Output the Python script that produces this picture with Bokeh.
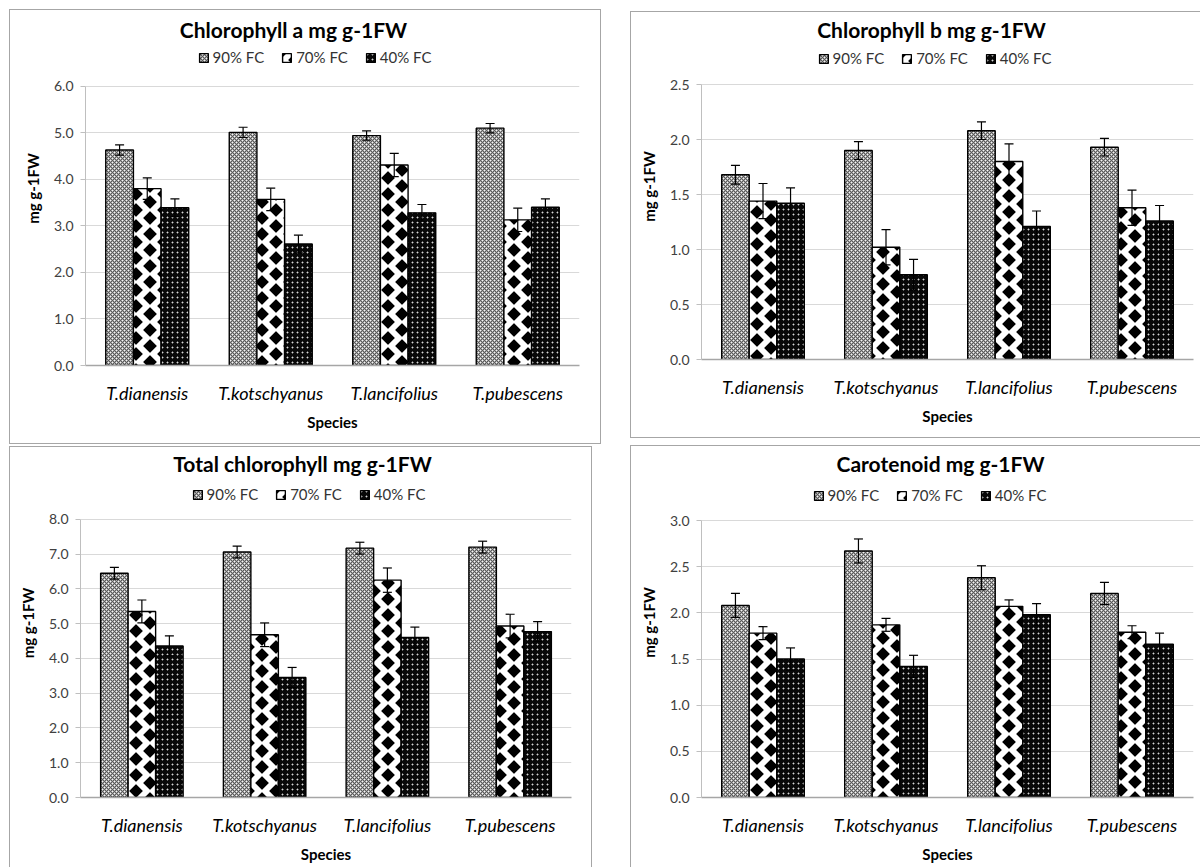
import base64, struct, zlib
from bokeh.plotting import figure
from bokeh.models import (ColumnDataSource, FactorRange, Range1d, FixedTicker, NumeralTickFormatter,
                          Whisker, TeeHead, Legend, LegendItem, Label, ImageURLTexture)
from bokeh.core.properties import value
from bokeh.transform import dodge
from bokeh.layouts import row, column
from bokeh.embed import file_html
from bokeh.resources import INLINE

# ---------------- data ----------------
species = ["T.dianensis", "T.kotschyanus", "T.lancifolius", "T.pubescens"]
conditions = ["90% FC", "70% FC", "40% FC"]

chla_90 = [4.63, 5.01, 4.94, 5.10]
chla_90_err = [0.11, 0.11, 0.10, 0.10]
chla_70 = [3.80, 3.57, 4.31, 3.13]
chla_70_err = [0.23, 0.24, 0.25, 0.25]
chla_40 = [3.39, 2.61, 3.28, 3.40]
chla_40_err = [0.19, 0.19, 0.18, 0.18]
chla_ticks = [0, 1, 2, 3, 4, 5, 6]

chlb_90 = [1.68, 1.90, 2.08, 1.93]
chlb_90_err = [0.085, 0.08, 0.08, 0.08]
chlb_70 = [1.44, 1.02, 1.80, 1.38]
chlb_70_err = [0.16, 0.16, 0.16, 0.16]
chlb_40 = [1.42, 0.77, 1.21, 1.26]
chlb_40_err = [0.14, 0.14, 0.14, 0.14]
chlb_ticks = [0, 0.5, 1.0, 1.5, 2.0, 2.5]

tot_90 = [6.45, 7.06, 7.17, 7.20]
tot_90_err = [0.17, 0.17, 0.17, 0.17]
tot_70 = [5.35, 4.68, 6.25, 4.93]
tot_70_err = [0.33, 0.34, 0.35, 0.34]
tot_40 = [4.36, 3.45, 4.60, 4.77]
tot_40_err = [0.29, 0.29, 0.30, 0.29]
tot_ticks = [0, 1, 2, 3, 4, 5, 6, 7, 8]

car_90 = [2.08, 2.67, 2.38, 2.21]
car_90_err = [0.13, 0.13, 0.13, 0.12]
car_70 = [1.78, 1.87, 2.07, 1.79]
car_70_err = [0.07, 0.07, 0.07, 0.07]
car_40 = [1.50, 1.42, 1.98, 1.66]
car_40_err = [0.12, 0.12, 0.12, 0.12]
car_ticks = [0, 0.5, 1.0, 1.5, 2.0, 2.5, 3.0]

titles = ["Chlorophyll a mg g-1FW", "Chlorophyll b mg g-1FW",
          "Total chlorophyll mg g-1FW", "Carotenoid mg g-1FW"]
y_label = "mg g-1FW"
x_label = "Species"

# ---------------- textures ----------------
def png_url(rows):
    h = len(rows); w = len(rows[0])
    raw = b"".join(b"\x00" + bytes(v for g in r for v in (g, g, g)) for r in rows)
    def chunk(t, d):
        c = struct.pack(">I", len(d)) + t + d
        return c + struct.pack(">I", zlib.crc32(t + d) & 0xffffffff)
    png = (b"\x89PNG\r\n\x1a\n" + chunk(b"IHDR", struct.pack(">IIBBBBB", w, h, 8, 2, 0, 0, 0))
           + chunk(b"IDAT", zlib.compress(raw)) + chunk(b"IEND", b""))
    return "data:image/png;base64," + base64.b64encode(png).decode()

def mesh_tile():
    rows = []
    for y in range(4):
        r = []
        for x in range(4):
            if (x + y) % 4 == 0 or (x - y) % 4 == 0:
                r.append(90)
            elif (x + y) % 4 == 2 and (x - y) % 4 == 2:
                r.append(245)
            else:
                r.append(170)
        rows.append(r)
    return rows

def diamond_tile(W=28, H=16, a=6.8, b=6.8):
    centers = [(W / 2, H / 2), (0, 0), (W, 0), (0, H), (W, H)]
    rows = []
    for y in range(H):
        r = []
        for x in range(W):
            cov = 0
            for sy in range(4):
                for sx in range(4):
                    px = x + (sx + 0.5) / 4; py = y + (sy + 0.5) / 4
                    if any(abs(px - cx) / a + abs(py - cy) / b <= 1 for cx, cy in centers):
                        cov += 1
            r.append(int(round(255 * (1 - cov / 16))))
        rows.append(r)
    return rows

def dot_tile():
    rows = [[8] * 5 for _ in range(5)]
    rows[2][2] = 215
    rows[2][1] = rows[2][3] = rows[1][2] = rows[3][2] = 95
    return rows

tex90 = png_url(mesh_tile())
tex70 = png_url(diamond_tile())
tex40 = png_url(dot_tile())

FONT = "Lato"
BORDER = "#a6a6a6"

panels = [
    dict(title=titles[0], s=(chla_90, chla_70, chla_40), e=(chla_90_err, chla_70_err, chla_40_err), ticks=chla_ticks,
         fx=10, fy=10, fw=590, fh=433, ax0=85, ax1=579, y0=366, yt=86, tx=293, ty=29, lx=318, ly=58,
         shadow=f"0 0 0 1px {BORDER}"),
    dict(title=titles[1], s=(chlb_90, chlb_70, chlb_40), e=(chlb_90_err, chlb_70_err, chlb_40_err), ticks=chlb_ticks,
         fx=631, fy=12, fw=569, fh=425, ax0=701, ax1=1193, y0=359, yt=84, tx=931, ty=29, lx=938, ly=58,
         shadow=f"-1px 0 0 {BORDER}, 0 -1px 0 {BORDER}, 0 1px 0 {BORDER}, -1px 1px 0 {BORDER}, -1px -1px 0 {BORDER}"),
    dict(title=titles[2], s=(tot_90, tot_70, tot_40), e=(tot_90_err, tot_70_err, tot_40_err), ticks=tot_ticks,
         fx=10, fy=447, fw=581, fh=420, ax0=80, ax1=571, y0=798, yt=519, tx=302, ty=463, lx=312, ly=495,
         shadow=f"-1px 0 0 {BORDER}, 1px 0 0 {BORDER}, 0 -1px 0 {BORDER}, -1px -1px 0 {BORDER}, 1px -1px 0 {BORDER}"),
    dict(title=titles[3], s=(car_90, car_70, car_40), e=(car_90_err, car_70_err, car_40_err), ticks=car_ticks,
         fx=631, fy=446, fw=569, fh=421, ax0=701, ax1=1193, y0=797, yt=520, tx=940, ty=463, lx=933, ly=495,
         shadow=f"-1px 0 0 {BORDER}, 0 -1px 0 {BORDER}, -1px -1px 0 {BORDER}"),
]

bar_w = 0.224
offsets = [-bar_w, 0.0, bar_w]
textures = [tex90, tex70, tex40]
fills = ["#bdbdbd", "white", "black"]

LEG_FS = 15
LEG_SP = 17
LEG_W = 3 * (11 + 4 + 0.6 * LEG_FS * 6) + 2 * LEG_SP
LEG_H = 18

def make_panel(c):
    ymax = c["ticks"][-1]
    ppu = (c["y0"] - c["yt"]) / ymax
    top_abs = c["fy"] + 1
    y_end = (c["y0"] - top_abs) / ppu
    p = figure(x_range=FactorRange(factors=species), y_range=Range1d(0, y_end),
               width=c["fw"], height=c["fh"], output_backend="svg", toolbar_location=None,
               title=None,
               min_border_left=c["ax0"] - c["fx"], min_border_right=c["fx"] + c["fw"] - c["ax1"],
               min_border_top=top_abs - c["fy"], min_border_bottom=c["fy"] + c["fh"] - c["y0"])
    p.outline_line_color = None
    p.background_fill_color = "white"
    p.border_fill_color = "white"
    p.styles = {"box-shadow": c["shadow"]}

    renderers = []
    for k in range(3):
        vals = c["s"][k]; errs = c["e"][k]
        src = ColumnDataSource(dict(species=species, value=vals,
                                    upper=[v + e for v, e in zip(vals, errs)],
                                    lower=[v - e for v, e in zip(vals, errs)]))
        r = p.vbar(x=dodge("species", offsets[k], range=p.x_range), top="value", width=bar_w,
                   source=src, fill_color=fills[k], line_color="black", line_width=1.4,
                   hatch_extra={"tex": ImageURLTexture(url=textures[k], repetition="repeat")},
                   hatch_pattern=value("tex"), hatch_color="black")
        renderers.append(r)
        wh = Whisker(base=dodge("species", offsets[k], range=p.x_range), upper="upper", lower="lower",
                     source=src, line_color="black", line_width=1.2, level="overlay",
                     upper_head=TeeHead(size=9, line_color="black", line_width=1.2),
                     lower_head=TeeHead(size=9, line_color="black", line_width=1.2))
        p.add_layout(wh)

    ya = p.yaxis[0]
    ya.ticker = FixedTicker(ticks=c["ticks"], minor_ticks=[])
    ya.formatter = NumeralTickFormatter(format="0.0")
    ya.bounds = (0, ymax)
    ya.axis_line_color = "#bfbfbf"
    ya.major_tick_line_color = "#bfbfbf"
    ya.major_tick_out = 5
    ya.major_tick_in = 0
    ya.minor_tick_line_color = None
    ya.major_label_standoff = 7
    ya.major_label_text_font = FONT
    ya.major_label_text_font_size = "14px"
    ya.major_label_text_color = "#404040"
    ya.axis_label = y_label
    ya.axis_label_text_font = FONT
    ya.axis_label_text_font_style = "bold"
    ya.axis_label_text_font_size = "15px"
    ya.axis_label_text_color = "black"
    ya.axis_label_standoff = 9

    xa = p.xaxis[0]
    xa.axis_line_color = "#a6a6a6"
    xa.axis_line_width = 1.3
    xa.major_tick_line_color = None
    xa.major_tick_out = 0
    xa.major_tick_in = 0
    xa.minor_tick_line_color = None
    xa.major_label_standoff = 16
    xa.major_label_text_font = FONT
    xa.major_label_text_font_style = "italic"
    xa.major_label_text_font_size = "18px"
    xa.major_label_text_color = "black"
    xa.axis_label = x_label
    xa.axis_label_text_font = FONT
    xa.axis_label_text_font_style = "bold"
    xa.axis_label_text_font_size = "15px"
    xa.axis_label_text_color = "black"
    xa.axis_label_standoff = 6

    p.xgrid.grid_line_color = None
    p.ygrid.ticker = FixedTicker(ticks=c["ticks"], minor_ticks=[])
    p.ygrid.grid_line_color = "#d9d9d9"
    p.ygrid.grid_line_width = 1.2

    cat_px = (c["ax1"] - c["ax0"]) / len(species)
    p.add_layout(Label(x=(c["tx"] - c["ax0"]) / cat_px, y=(c["y0"] - c["ty"]) / ppu, text=c["title"],
                       text_align="center", text_baseline="middle", text_font=FONT,
                       text_font_style="bold", text_font_size="21px", text_color="black"))

    legend = Legend(items=[LegendItem(label=conditions[k], renderers=[renderers[k]]) for k in range(3)],
                    orientation="horizontal",
                    location=(c["lx"] - LEG_W / 2 - c["ax0"], (c["y0"] - c["ly"]) - LEG_H / 2),
                    border_line_color=None, background_fill_alpha=0, padding=0, margin=0,
                    spacing=LEG_SP, glyph_width=11, glyph_height=11, label_standoff=4,
                    label_text_font=FONT, label_text_font_size=f"{LEG_FS}px", label_text_color="#333333",
                    label_height=LEG_H)
    p.add_layout(legend)
    return p

figs = [make_panel(c) for c in panels]
p1, p2, p3, p4 = figs
ORIGIN = 0
row1_top = ORIGIN
p1.margin = (panels[0]["fy"] - row1_top, 0, 0, panels[0]["fx"] - ORIGIN)
p2.margin = (panels[1]["fy"] - row1_top, 0, 0, panels[1]["fx"] - (panels[0]["fx"] + panels[0]["fw"]))
row1_h = max(panels[0]["fy"] - row1_top + panels[0]["fh"], panels[1]["fy"] - row1_top + panels[1]["fh"])
row2_top = row1_top + row1_h
p3.margin = (panels[2]["fy"] - row2_top, 0, 0, panels[2]["fx"] - ORIGIN)
p4.margin = (panels[3]["fy"] - row2_top, 0, 0, panels[3]["fx"] - (panels[2]["fx"] + panels[2]["fw"]))

layout = column(row(p1, p2), row(p3, p4))
open("out.html", "w").write(file_html(layout, INLINE))
